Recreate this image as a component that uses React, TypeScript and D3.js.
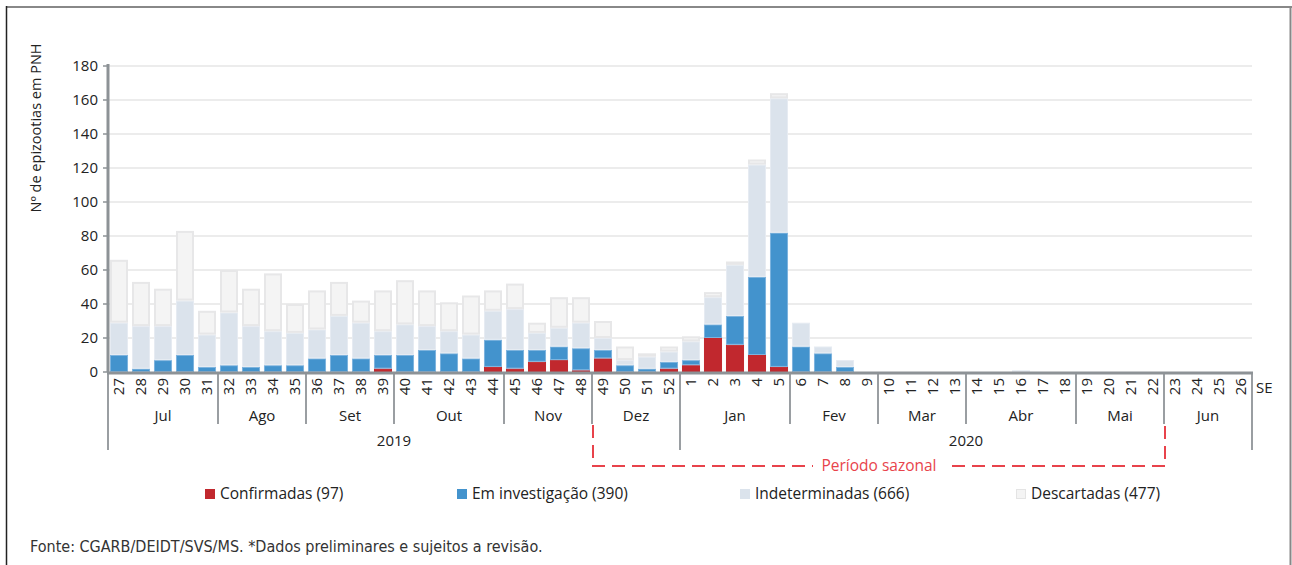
import * as d3 from 'd3';
import { useEffect } from 'react';

// epidemiological weeks (SE), jul/2019 -> jun/2020
const weeks = [
  '27', '28', '29', '30', '31', '32', '33', '34', '35', '36', '37', '38', '39',
  '40', '41', '42', '43', '44', '45', '46', '47', '48', '49', '50', '51', '52',
  '1', '2', '3', '4', '5', '6', '7', '8', '9', '10', '11', '12', '13',
  '14', '15', '16', '17', '18', '19', '20', '21', '22', '23', '24', '25', '26',
];
const months = ['Jul', 'Ago', 'Set', 'Out', 'Nov', 'Dez', 'Jan', 'Fev', 'Mar', 'Abr', 'Mai', 'Jun'];
const weeksPerMonth = [5, 4, 4, 5, 4, 4, 5, 4, 4, 5, 4, 4];
const years = ['2019', '2020'];
const monthsPerYear = [6, 6];

const confirmadas = [
  0, 0, 0, 0, 0, 0, 0, 0, 0, 0, 0, 0, 2,
  0, 0, 0, 0, 3, 2, 6, 7, 1, 8, 0, 0, 2,
  4, 20, 16, 10, 3, 0, 0, 0, 0, 0, 0, 0, 0,
  0, 0, 0, 0, 0, 0, 0, 0, 0, 0, 0, 0, 0,
];
const investigacao = [
  10, 2, 7, 10, 3, 4, 3, 4, 4, 8, 10, 8, 8,
  10, 13, 11, 8, 16, 11, 7, 8, 13, 5, 4, 2, 4,
  3, 8, 17, 46, 79, 15, 11, 3, 0, 0, 0, 0, 0,
  0, 0, 0, 0, 0, 0, 0, 0, 0, 0, 0, 0, 0,
];
const indeterminadas = [
  19, 25, 20, 32, 19, 31, 24, 20, 19, 17, 23, 21, 14,
  18, 14, 13, 14, 17, 24, 10, 11, 15, 7, 3, 7, 6,
  11, 16, 30, 66, 79, 14, 4, 4, 0, 0, 0, 0, 0,
  0, 0, 1, 0, 0, 0, 0, 0, 0, 0, 0, 0, 0,
];
const descartadas = [
  37, 26, 22, 41, 14, 25, 22, 34, 17, 23, 20, 13, 24,
  26, 21, 17, 23, 12, 15, 6, 18, 15, 10, 8, 2, 3,
  3, 3, 2, 3, 3, 0, 0, 0, 0, 0, 0, 0, 0,
  0, 0, 0, 0, 0, 0, 0, 0, 0, 0, 0, 0, 0,
];
const yTicks = [0, 20, 40, 60, 80, 100, 120, 140, 160, 180];

const series = [
  { key: 'conf', label: 'Confirmadas (97)', fill: '#c1282e', stroke: '#c1282e' },
  { key: 'inv', label: 'Em investigação (390)', fill: '#4393cd', stroke: '#7db3de' },
  { key: 'ind', label: 'Indeterminadas (666)', fill: '#dbe3ec', stroke: '#e6ebf2' },
  { key: 'desc', label: 'Descartadas (477)', fill: '#f4f4f4', stroke: '#e7e7e8' },
];

const FONT = "'Open Sans', 'DejaVu Sans', sans-serif";

export default function App() {
  useEffect(() => {
    document.body.style.margin = '0';
  }, []);

  const left = 108;
  const right = 1252;
  const base = 372;
  const top = 66;

  const x = d3.scaleBand<string>().domain(weeks).range([left, right]).paddingInner(0.18).paddingOuter(0.09);
  const step = x.step();
  const y = d3.scaleLinear().domain([0, 180]).range([base, top]);

  const table = weeks.map((w, i) => ({
    week: w,
    conf: confirmadas[i],
    inv: investigacao[i],
    ind: indeterminadas[i],
    desc: descartadas[i],
  }));
  const stacked = d3.stack<any>().keys(series.map((s) => s.key))(table);

  // month & year boundaries (in week index)
  const monthStarts: number[] = Array.from(d3.cumsum([0, ...weeksPerMonth]));
  const yearStarts: number[] = Array.from(d3.cumsum([0, ...monthsPerYear])).map((m) => monthStarts[m]);
  const edge = (i: number) => left + i * step;

  const seasonL = edge(monthStarts[5]) + 1;
  const seasonR = edge(monthStarts[11]) + 1;
  const axisColor = '#8d9296';
  const sepColor = '#9a9ea2';

  return (
    <div style={{ position: 'absolute', left: 0, top: 0 }}>
      <svg width={1292} height={565} style={{ display: 'block', fontFamily: FONT }}>
        <rect x={0} y={0} width={1292} height={565} fill="#fff" />
        {/* frame */}
        <line x1={6} x2={1292} y1={7} y2={7} stroke="#888" strokeWidth={2} />
        <line x1={6.5} x2={6.5} y1={6} y2={565} stroke="#222" strokeWidth={1.5} />
        <line x1={1290.5} x2={1290.5} y1={6} y2={565} stroke="#888" strokeWidth={2} />

        {/* grid */}
        {yTicks.slice(1).map((t) => (
          <line key={t} x1={left} x2={right} y1={y(t)} y2={y(t)} stroke="#ececec" strokeWidth={2} />
        ))}

        {/* bars */}
        {stacked.map((layer, li) => (
          <g key={layer.key}>
            {layer.map((d, i) => {
              const h = y(d[0]) - y(d[1]);
              if (h <= 0) return null;
              const s = series[li];
              const isDesc = s.key === 'desc';
              return (
                <rect
                  key={i}
                  x={(x(weeks[i]) as number) + (isDesc ? 1 : 0.5)}
                  y={y(d[1]) + (isDesc ? 1 : 0.5)}
                  width={x.bandwidth() - (isDesc ? 2 : 1)}
                  height={Math.max(0, h - (isDesc ? 2 : 1))}
                  fill={s.fill}
                  stroke={s.stroke}
                  strokeWidth={isDesc ? 2 : 1}
                />
              );
            })}
          </g>
        ))}

        {/* y axis */}
        <line x1={left} x2={left} y1={top - 2} y2={base} stroke={axisColor} strokeWidth={3} />
        {yTicks.map((t) => (
          <g key={t}>
            <line x1={left - 5} x2={left} y1={y(t)} y2={y(t)} stroke={axisColor} strokeWidth={1.5} />
            <text x={left - 10} y={y(t)} dy="0.35em" textAnchor="end" fontSize={15} fill="#222">
              {t}
            </text>
          </g>
        ))}
        <text
          transform={`translate(36,128) rotate(-90)`}
          textAnchor="middle"
          dy="0.35em"
          fontSize={14.5}
          fill="#222"
        >
          Nº de epizootias em PNH
        </text>

        {/* x axis */}
        {monthStarts.map((m, i) =>
          yearStarts.includes(m) ? null : (
            <line key={'m' + i} x1={edge(m)} x2={edge(m)} y1={base} y2={424} stroke={sepColor} strokeWidth={2} />
          )
        )}
        {yearStarts.map((m, i) => (
          <line key={'y' + i} x1={edge(m)} x2={edge(m)} y1={base} y2={450} stroke={sepColor} strokeWidth={2} />
        ))}
        <line x1={left - 1} x2={right + 1} y1={base + 1} y2={base + 1} stroke={axisColor} strokeWidth={3} />
        {weeks.map((w) => (
          <text
            key={w}
            transform={`translate(${(x(w) as number) + x.bandwidth() / 2},378) rotate(-90)`}
            textAnchor="end"
            dy="0.35em"
            fontSize={15}
            fill="#222"
          >
            {w}
          </text>
        ))}
        <text x={right + 4} y={388} dy="0.35em" fontSize={15} fill="#222">
          SE
        </text>
        {months.map((m, i) => (
          <text
            key={m}
            x={(edge(monthStarts[i]) + edge(monthStarts[i + 1])) / 2}
            y={416}
            dy="0.35em"
            textAnchor="middle"
            fontSize={15}
            fill="#222"
          >
            {m}
          </text>
        ))}
        {years.map((yr, i) => (
          <text
            key={yr}
            x={(edge(yearStarts[i]) + edge(yearStarts[i + 1])) / 2}
            y={441}
            dy="0.35em"
            textAnchor="middle"
            fontSize={15}
            fill="#222"
          >
            {yr}
          </text>
        ))}

        {/* seasonal period */}
        <path
          d={`M${seasonL},425 V466 H${seasonR} V425`}
          fill="none"
          stroke="#e8434b"
          strokeWidth={2}
          strokeDasharray="13,7"
        />
        <rect x={(seasonL + seasonR) / 2 - 66} y={456} width={132} height={20} fill="#fff" />
        <text x={(seasonL + seasonR) / 2} y={466} dy="0.35em" textAnchor="middle" fontSize={15.5} fill="#e8434b">
          Período sazonal
        </text>

        {/* legend */}
        {series.map((s, i) => {
          const lx = [205, 457, 740, 1016][i];
          return (
            <g key={s.key}>
              <rect
                x={lx + 0.5}
                y={489.5}
                width={9}
                height={9}
                fill={s.fill}
                stroke={s.key === 'desc' ? '#e4e4e4' : s.fill}
              />
              <text x={lx + 15} y={494} dy="0.35em" fontSize={15.5} fill="#222">
                {s.label}
              </text>
            </g>
          );
        })}

        <text
          x={30}
          y={546}
          dy="0.35em"
          fontSize={16}
          fill="#333"
          style={{ fontFamily: "'Liberation Sans Narrow', 'DejaVu Sans Condensed', sans-serif" }}
        >
          Fonte: CGARB/DEIDT/SVS/MS. *Dados preliminares e sujeitos a revisão.
        </text>
      </svg>
    </div>
  );
}
